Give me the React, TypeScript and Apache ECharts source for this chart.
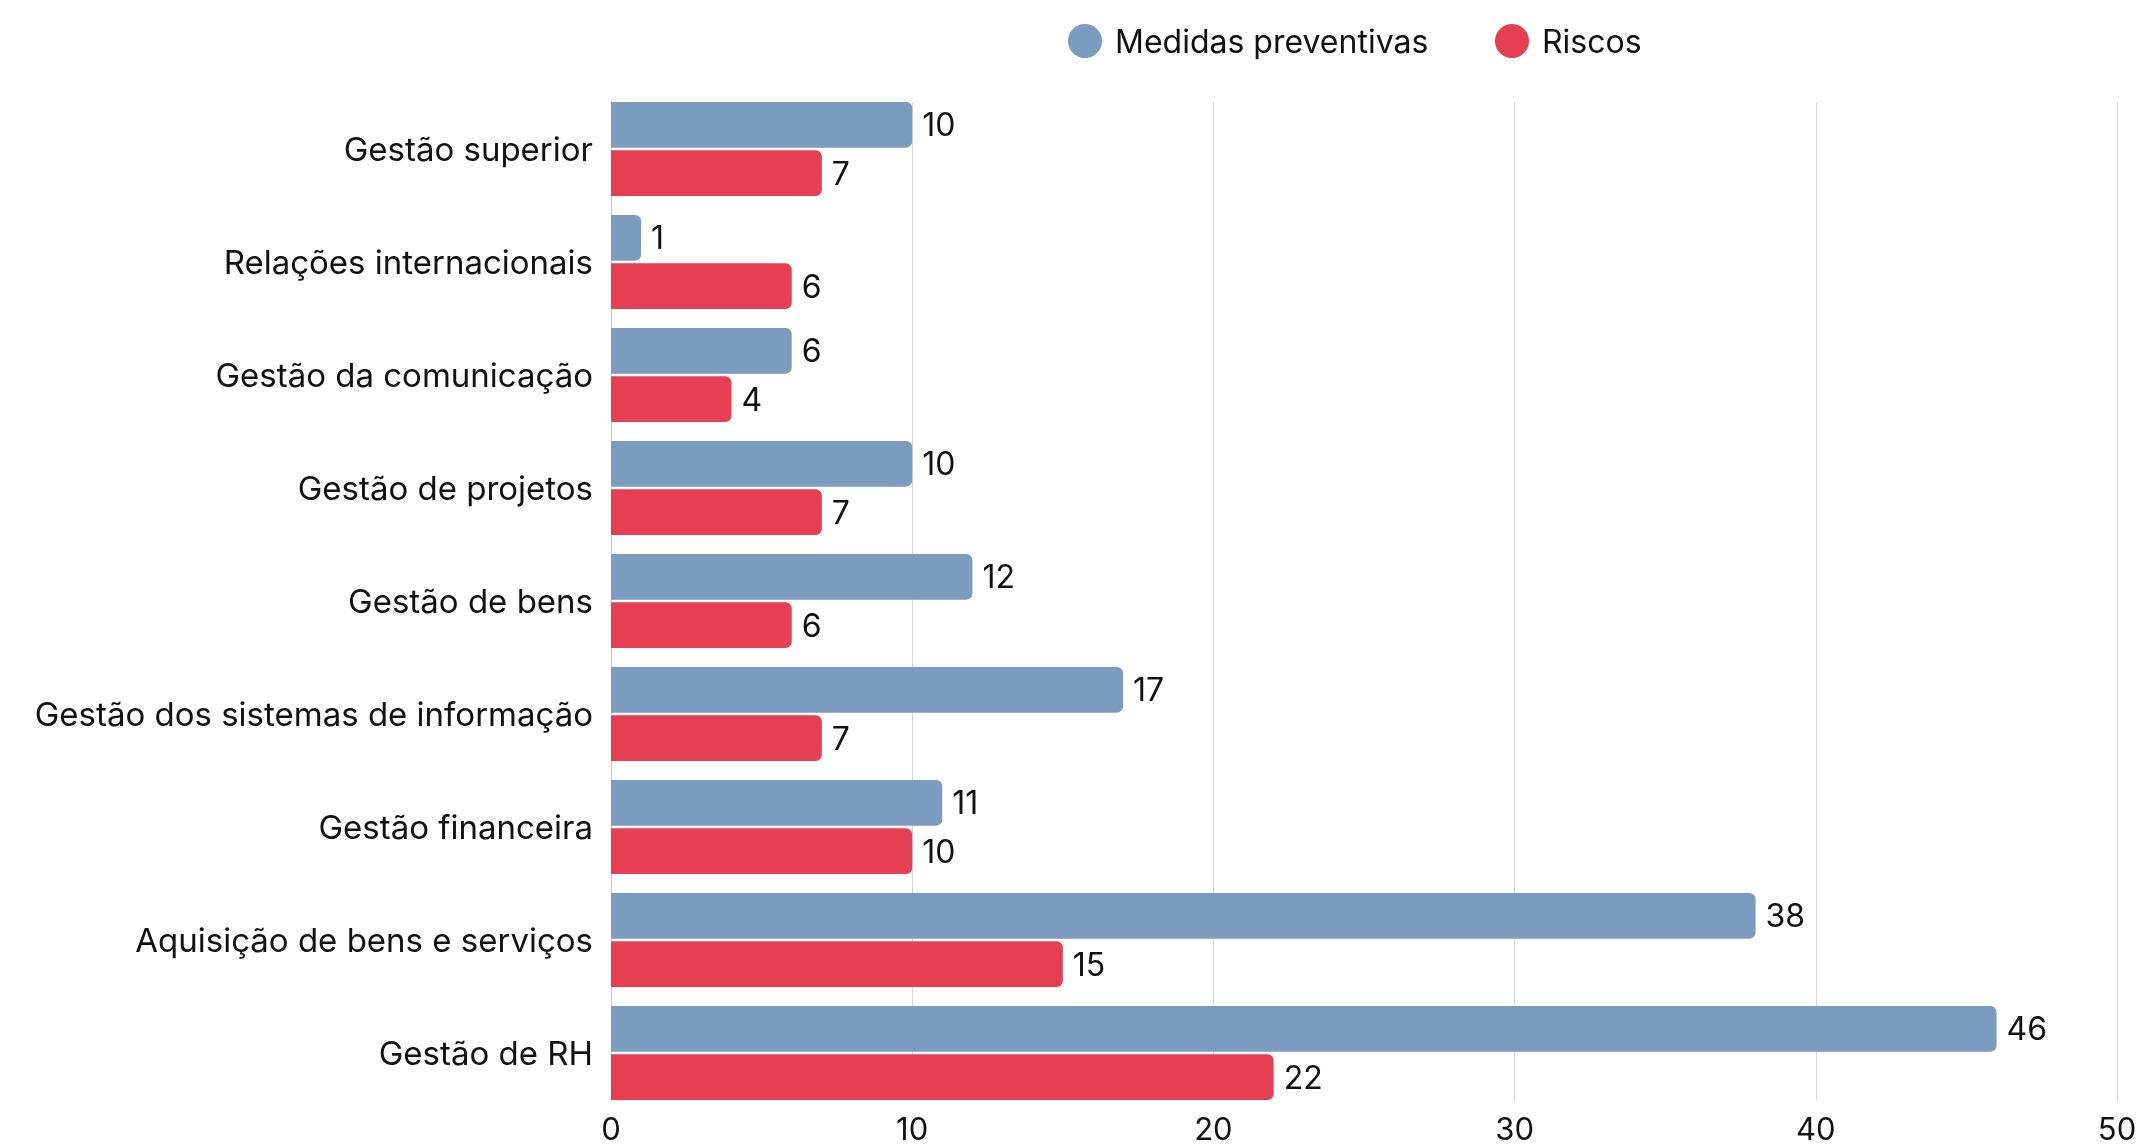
import React, { useEffect, useRef } from "react";
import * as echarts from "echarts";

const categories = [
  "Gestão superior",
  "Relações internacionais",
  "Gestão da comunicação",
  "Gestão de projetos",
  "Gestão de bens",
  "Gestão dos sistemas de informação",
  "Gestão financeira",
  "Aquisição de bens e serviços",
  "Gestão de RH",
];
const medidas = [10, 1, 6, 10, 12, 17, 11, 38, 46];
const riscos = [7, 6, 4, 7, 6, 7, 10, 15, 22];
const seriesNames = ["Medidas preventivas", "Riscos"];
const colors = ["#7B9BC1", "#E63E53"];

const FONT = "Inter, Roboto, sans-serif";

export default function App() {
  const ref = useRef<HTMLDivElement>(null);
  useEffect(() => {
    const chart = echarts.init(ref.current!, null, { renderer: "svg" });
    const label = {
      show: true,
      position: "right",
      distance: 10,
      color: "#111",
      fontSize: 32,
      fontFamily: FONT,
    };
    const legendText = { fontSize: 32, color: "#111", fontFamily: FONT, padding: [0, 0, 0, 8] };
    chart.setOption({
      animation: false,
      textStyle: { fontFamily: FONT },
      legend: [
        {
          data: [seriesNames[0]],
          left: 1063,
          top: 19,
          icon: "circle",
          itemWidth: 34,
          itemHeight: 34,
          textStyle: legendText,
        },
        {
          data: [seriesNames[1]],
          left: 1490,
          top: 19,
          icon: "circle",
          itemWidth: 34,
          itemHeight: 34,
          textStyle: legendText,
        },
      ],
      grid: [
        { left: 611, right: 24, top: 102, bottom: 46, containLabel: false },
        { left: 611, right: 24, top: 92.5, bottom: 36.5, containLabel: false },
      ],
      xAxis: [
        {
          gridIndex: 0,
          type: "value",
          min: 0,
          max: 50,
          interval: 10,
          axisLabel: {
            fontSize: 31,
            lineHeight: 28,
            color: "#111",
            fontFamily: FONT,
            margin: 14,
          },
          splitLine: { lineStyle: { color: "#d4d4d4", width: 1 } },
          axisLine: { show: false },
          axisTick: { show: false },
        },
        {
          gridIndex: 1,
          type: "value",
          min: 0,
          max: 50,
          interval: 10,
          show: false,
        },
      ],
      yAxis: [
        {
          gridIndex: 0,
          type: "category",
          data: categories,
          inverse: true,
          axisLabel: { show: false },
          axisLine: { show: true, lineStyle: { color: "#c8c8c8", width: 1 } },
          axisTick: { show: false },
        },
        {
          gridIndex: 1,
          type: "category",
          data: categories,
          inverse: true,
          axisLabel: { fontSize: 33, color: "#111", fontFamily: FONT, margin: 18 },
          axisLine: { show: false },
          axisTick: { show: false },
        },
      ],
      series: [
        {
          name: seriesNames[0],
          type: "bar",
          xAxisIndex: 1,
          yAxisIndex: 1,
          data: medidas,
          itemStyle: { color: colors[0], borderRadius: [0, 6, 6, 0] },
          label,
          barGap: "6%",
          barCategoryGap: "16.8%",
        },
        {
          name: seriesNames[1],
          type: "bar",
          xAxisIndex: 1,
          yAxisIndex: 1,
          data: riscos,
          itemStyle: { color: colors[1], borderRadius: [0, 6, 6, 0] },
          label,
          barGap: "6%",
          barCategoryGap: "16.8%",
        },
      ],
    });
    return () => chart.dispose();
  }, []);
  return (
    <div
      ref={ref}
      style={{ position: "fixed", left: 0, top: 0, width: 2141, height: 1146 }}
    />
  );
}
